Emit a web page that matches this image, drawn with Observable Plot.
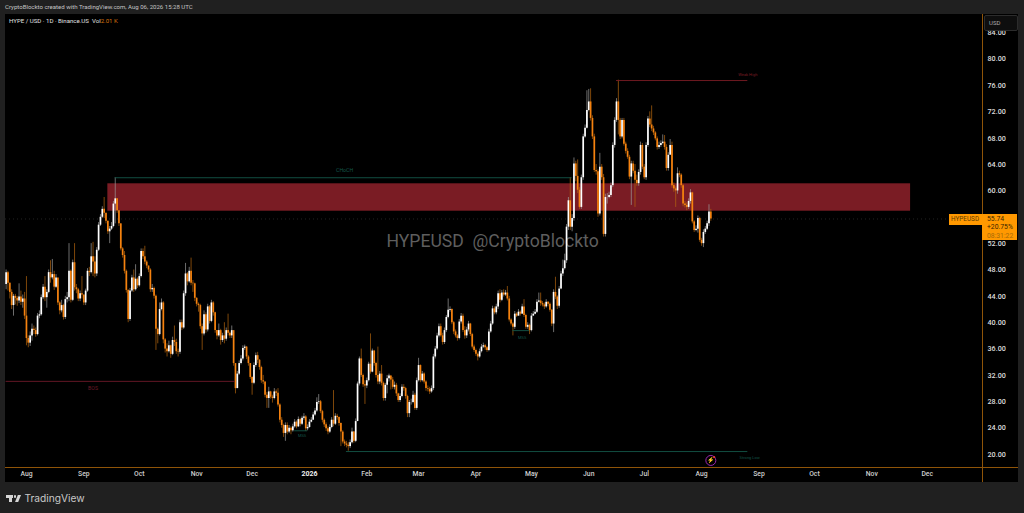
<!DOCTYPE html>
<html><head><meta charset="utf-8">
<script src="https://cdn.jsdelivr.net/npm/d3@7"></script>
<script src="https://cdn.jsdelivr.net/npm/@observablehq/plot@0.6"></script>
<style>
html,body{margin:0;padding:0;background:#202020;width:1024px;height:513px;overflow:hidden;font-family:Roboto,"Noto Sans",sans-serif}
#pane{position:absolute;left:5px;top:14px;width:1013px;height:468px;background:#000}
#plot{position:absolute;left:0;top:0}
#plot svg{background:transparent!important;display:block}
.abs{position:absolute;white-space:nowrap}
</style></head><body>
<div id="pane"></div>
<div id="plot"></div>
<div class="abs" style="left:982px;top:14px;width:1px;height:468px;background:#8f5408"></div>
<div class="abs" style="left:5px;top:467px;width:1013px;height:1px;background:#8f5408"></div>
<div class="abs" style="left:5px;top:3px;font-size:6.05px;line-height:8px;color:#c4c4c4">CryptoBlockto created with TradingView.com, Aug 06, 2026 15:28 UTC</div>
<div class="abs" style="left:9px;top:17px;font-size:6.1px;line-height:8px;color:#e0e0e0">HYPE / USD · 1D · Binance.US &nbsp;Vol<span style="color:#d9730d">2.01 K</span></div>
<div class="abs" style="left:984px;top:15px;width:32px;height:14px;background:#0e0e0e;border:1px solid #2c2c2c;border-radius:2px;color:#aaa;font-size:6px;line-height:13px;text-indent:4px">USD</div>
<div class="abs" style="left:949px;top:214px;width:33px;height:11px;background:#ff9800;color:#5a3a00;font-size:6.4px;line-height:11px;text-indent:2px">HYPEUSD</div>
<div class="abs" style="left:982px;top:214px;width:35px;height:26px;background:#ff9800;color:#3a2600;font-size:6.8px;line-height:8.4px;padding-left:5px;box-sizing:border-box;padding-top:1px">55.74<br>+20.75%<br><span style="color:#a86a08">08:31:22</span></div>
<div class="abs" style="left:6px;top:495px;width:7px;height:2.5px;background:#d6d6d6"></div>
<div class="abs" style="left:9px;top:495px;width:3px;height:7px;background:#d6d6d6"></div>
<div class="abs" style="left:13.5px;top:495px;width:2.5px;height:2.5px;border-radius:50%;background:#d6d6d6"></div>
<div class="abs" style="left:14px;top:495px;width:7px;height:7px;background:#d6d6d6;clip-path:polygon(55% 0,100% 0,60% 100%,15% 100%)"></div>
<div class="abs" style="left:24.5px;top:491px;font-family:Inter,Roboto,sans-serif;font-size:10.2px;line-height:14px;color:#c8c8c8">TradingView</div>
<script>
const firstDay = "2025-07-21";
const close = [
47.6,46.0,44.6,42.6,44.0,43.7,43.3,43.9,43.1,43.6,
41.0,37.6,36.9,38.0,39.0,38.8,38.2,41.0,41.2,43.8,
45.4,43.8,44.6,47.6,46.8,47.3,45.4,46.8,43.0,41.8,
42.6,40.8,43.5,43.8,47.8,43.4,49.1,45.3,45.0,43.6,
44.4,44.2,43.0,44.8,47.8,47.6,50.0,49.2,47.4,51.0,
54.8,56.0,57.2,56.6,55.4,53.8,54.2,54.6,58.0,58.8,
57.0,55.0,51.2,50.2,47.8,44.9,40.5,44.8,46.8,45.0,
46.6,45.6,47.0,50.8,50.0,49.2,48.6,48.0,45.0,45.2,
44.0,39.0,38.2,42.0,43.0,37.4,36.0,35.6,36.5,35.2,
37.3,37.0,35.6,35.5,40.0,39.2,44.4,47.4,46.2,47.8,
46.0,45.9,43.7,42.8,42.6,39.4,38.3,41.2,38.9,42.4,
40.2,43.0,41.5,38.8,38.0,38.8,37.3,38.0,37.5,38.8,
38.4,38.0,38.8,33.8,30.0,32.2,33.8,34.5,36.1,36.3,
34.8,33.8,31.7,30.8,33.5,35.0,34.3,33.2,31.2,31.0,
29.0,28.5,29.5,28.7,28.5,29.5,29.3,27.5,25.2,24.4,
23.2,24.4,23.4,24.0,23.6,24.2,24.9,24.2,25.3,24.6,
25.5,25.7,23.9,24.1,24.9,25.2,26.0,26.6,27.9,28.0,
26.5,25.2,24.5,23.9,23.4,24.1,25.2,24.6,25.8,25.6,
24.7,23.4,21.9,21.6,21.4,21.2,21.8,23.4,22.0,25.0,
30.7,34.5,32.0,30.6,30.4,31.2,33.7,32.5,35.7,33.8,
32.0,31.0,32.2,30.8,28.5,30.5,31.5,31.9,31.3,30.2,
30.5,29.2,28.2,28.8,30.2,30.0,28.8,26.2,27.9,27.9,
29.0,27.0,31.2,33.5,31.2,32.2,31.0,30.0,29.9,29.5,
30.0,34.8,36.0,38.0,39.4,38.0,37.0,38.8,40.8,41.9,
42.0,40.0,38.6,38.0,37.6,40.1,41.0,38.8,38.0,38.9,
39.8,38.2,36.3,35.8,35.2,34.8,35.6,36.3,36.5,36.2,
35.8,38.6,39.8,42.1,41.5,42.4,44.4,43.4,44.5,44.2,
44.5,43.6,40.4,39.8,39.3,41.3,41.0,41.6,41.3,42.4,
41.1,39.3,39.6,38.8,41.0,41.3,41.6,43.1,43.3,42.9,
42.7,42.4,43.1,42.8,41.9,39.8,44.6,43.9,42.5,45.1,
47.4,48.2,49.4,54.5,58.5,54.5,55.8,64.1,62.2,60.1,
57.5,62.0,68.2,69.5,72.2,73.5,71.0,68.2,63.1,62.9,
56.5,63.6,62.0,53.4,59.0,59.0,59.3,60.8,66.9,70.7,
73.5,70.7,68.2,70.7,67.1,66.0,65.1,62.1,64.1,63.0,
61.6,61.1,62.8,66.9,63.6,62.0,66.9,70.9,70.0,69.4,
68.8,67.9,66.6,66.9,67.2,67.4,66.6,63.4,65.4,66.9,
60.8,60.3,60.0,62.6,62.4,60.8,58.0,57.8,57.5,58.4,
59.7,55.3,54.0,54.2,55.8,52.5,52.0,53.7,54.2,55.0,56.8,55.74];
const high = [
48,47.8,46,45,44.3,44.3,44,45.9,44.8,44.2,
44.6,47,38,38.6,39.8,39.5,39.2,41.4,41.8,44.2,
45.8,47,45,48,49.4,49.6,47.8,47.3,45.6,43.2,
43.4,42.8,44,44.6,52,48,49.5,52,45.8,45.2,
44.8,47,44.2,45.1,48.2,48.4,52,52.2,50,51.4,
55.2,56.4,57.6,59,56.6,55.4,54.6,55.2,58.4,62,
58.8,57,55,51.4,50.8,48,45,45.2,47.2,48,
48.8,46.8,47.4,51.2,51.2,51.6,49.4,48.6,48.2,45.8,
45.4,44.2,39.2,43,43.6,43.2,37.6,36.8,37.2,36.6,
37.8,39.5,37.5,36,40.4,40.4,44.8,49,47.6,48.4,
49.8,46.4,46,43.8,43,42.8,39.8,41.8,41.5,42.8,
42.6,43.4,43.2,41.6,38.8,39.8,39,38.4,40,39.2,
41.3,38.6,39.5,38.6,33.8,32.6,34.2,35,36.5,36.6,
36.4,35,33.8,31.8,33.9,35.4,35.5,34.4,33.4,32,
31,29.4,30.2,29.6,29,30,29.8,30,27.7,25.6,
24.6,24.8,24.8,24.4,24.2,24.6,25.3,25.1,25.7,25.5,
25.8,26.2,25.9,24.5,25.3,25.6,26.4,27,28.6,29.1,
28.2,26.7,25.4,24.8,24.2,24.5,25.6,29.7,26.2,26.1,
25.7,24.8,23.6,22.2,22,21.8,22.2,24,23.5,25.4,
31,34.8,36,32.2,31.2,31.6,34,38.3,36,35.8,
34,36.3,32.6,33.5,31,30.8,32,32.2,32,31.7,
31,30.8,29.3,29.2,30.6,30.6,30.2,29,28.2,28.4,
29.6,29.3,31.6,34.6,33.6,32.6,32.4,31.2,30.4,30.2,
30.4,35.2,36.4,38.4,39.8,39.8,38.4,39.2,41.1,43.6,
42.4,42.1,40.2,38.9,38.2,40.5,41.4,41.3,39.4,39.3,
40.2,39.9,38.4,36.6,36,35.4,36,36.7,36.9,36.7,
36.4,39,40.2,42.5,42.4,42.8,44.8,45,44.9,45,
44.9,45.5,44,40.6,40,41.7,41.5,42,41.8,42.8,
43.5,41.3,40,39.8,41.4,41.7,42,43.5,44.5,44.5,
43.2,43,43.5,43.2,43,42,45,46.9,44.1,45.5,
47.8,49.5,50.4,54.9,59,62,56.4,65,64.5,64.7,
60.5,62.4,68.6,70,75.2,75.4,75.5,71.4,68.6,64,
63.2,65.7,64,62.5,59.5,59.6,59.8,61.2,67.3,71.1,
74,76.8,71,71,71,67.4,66.4,65.4,64.5,64.5,
64,62.4,63.2,67.4,67.2,64,67.3,71.3,72,72.9,
69.8,69,68.2,67.4,67.6,68.5,68.4,67,65.8,67.8,
67.4,61.2,60.6,63.5,63,62.6,61,58.4,58.2,58.8,
60.2,59.8,55.5,54.7,56.2,56,52.8,54.1,54.6,55.4,57.9,57.2];
const low = [
45,44.8,43.6,42,41,42.7,42.5,42.9,42.6,42.2,
40.5,36.5,36.2,36.4,37.2,38.2,37.8,38,40.6,41,
43.5,43.2,42.2,44.4,46,46.5,44.9,45.2,42.6,41.2,
41.5,40.4,40.5,43,43.2,43,43.2,44.8,44.4,43.2,
43.2,43.6,42.6,42.6,44.6,47,47.4,47,46.8,47,
50.8,54.6,55.8,55.8,55,53.4,52,54,54.4,55,
56.6,54.6,50.9,49.8,47.4,44.5,40,40.2,44.6,44.6,
44.8,45.2,45.4,46.8,49.6,48.8,48.2,47.6,44.6,44.6,
43.6,35.8,36.8,38,41.8,36.8,35.4,34.8,35.4,34.6,
35,36.4,35.2,34.8,35.2,38.8,39,44,45.6,46,
45.6,44.6,43.2,42.4,41.6,39,35.8,38,38.4,38.6,
39.8,40,41,38.4,37.4,37.8,36.6,37,36.8,37.2,
38,37.6,37.6,33.4,29.2,30,32,33.6,34.2,35.8,
34.4,33.4,31.4,29,30.6,33.2,33.8,32.8,30.8,30.6,
28.6,27,27,28.4,27.8,28.3,28.8,27.2,24.8,24,
22.6,22,23,23.2,23,23.4,24,23.9,24.1,24.2,
24.4,25.2,23.5,23.6,24,24.8,25.7,25.8,26.4,27.6,
26.2,24.8,24.1,23.5,23,23.2,23.9,24.2,24.4,25.2,
24.3,21.2,21.6,21.2,21,20.5,20.9,21.6,21.7,21.8,
25,30.4,31.7,30.2,27.6,30,31,32.2,32.4,33.4,
31.6,30.6,30.6,30.4,28.1,28.1,29.2,31,29.8,29.9,
29.8,28.8,27.9,27.9,28.6,29.6,28.4,25.6,25.6,27.5,
27.7,26.7,26.7,31,30.9,31,30.7,29.6,29.5,29.1,
29.3,29.7,34.5,35.8,37.7,37.8,36.6,36.7,38.5,40.6,
41.6,39.7,38.2,37.7,37.2,37.4,39.8,38.5,37.5,37.6,
38.6,37.9,36,35.5,34.9,34.2,34.6,35.4,36.1,35.8,
35.5,35.6,38.4,39.6,41.2,41.2,42,43,43.2,43.9,
44,43.3,40.1,39.5,38,39,40.8,41,41,41.3,
40.8,39,39,38.2,38.6,41,41.2,41.4,43,42.5,
42.4,42,42.2,42.4,41.6,39.4,38.5,43.5,42,42.2,
45,47,48,49,54,54,53.8,55.4,61.4,59.6,
57.2,57.2,61.6,68,69.4,72,70.6,67.8,62.8,62.4,
56,56.2,61.6,53,53,58,58.8,59,60.5,66.5,
70.4,68.5,67.8,67.9,66.8,65.6,64.8,61.7,57.8,62.6,
57.5,60.7,60.7,62.4,63.2,61.7,61.6,66.6,69.6,69,
68.4,67.6,66.2,66.3,66.6,67,66.2,63,63,66.5,
60.4,59.8,57.5,59.5,62,60.4,57.6,57.4,57,57.2,
58,55,53.7,53.8,53.6,52.2,51.6,51.4,53.4,54,54.6,55.4];

const priceTicks = [20,24,28,32,36,40,44,48,52,60,64,68,72,76,80,84];
const monthTicks = ["2025-08-01","2025-09-01","2025-10-01","2025-11-01","2025-12-01","2026-02-01","2026-03-01","2026-04-01","2026-05-01","2026-06-01","2026-07-01","2026-08-01","2026-09-01","2026-10-01","2026-11-01","2026-12-01"];
const yearTicks = ["2026-01-01"];
const levelLabels = ["CHoCH","BOS","Weak High","Strong Low","MSS","MSS"];
const levelFrom = ["2025-09-18","2025-07-21","2026-06-16","2026-01-21","2025-12-24","2026-04-21"];
const levelTo   = ["2026-05-23","2025-11-22","2026-08-26","2026-08-26","2025-12-31","2026-04-30"];
const levelPrice= [62,31.1,76.75,20.45,23.6,38.8];
const labelDate = ["2026-01-20","2025-09-06","2026-08-26","2026-08-27","2025-12-28","2026-04-26"];
const labelPrice= [63.1,30,77.7,19.5,22.9,37.75];
const levelColor= ["#14574a","#6d1a28","#7a1c24","#14574a","#14574a","#14574a"];
const zone = {from:"2025-09-14", to:"2026-11-22", low:56.92, high:61.08};
const lastPrice = 55.74;

const dt = s => new Date(s + "T00:00:00Z");
const candles = close.map((c,i) => ({
  date: new Date(dt(firstDay).getTime() + i*864e5),
  open: i ? close[i-1] : 45.8, close: c, high: high[i], low: low[i]
}));
const levels = levelLabels.map((label,i) => ({label, from:dt(levelFrom[i]), to:dt(levelTo[i]), price:levelPrice[i], ld:dt(labelDate[i]), lp:labelPrice[i], color:levelColor[i]}));
const up = d => d.close >= d.open;
const lastDate = candles[candles.length-1].date;

const chart = Plot.plot({
  width:1024, height:513,
  marginLeft:5, marginRight:42, marginTop:14, marginBottom:46,
  style:{background:"transparent", fontFamily:"Roboto,sans-serif"},
  x:{type:"utc", domain:[new Date("2025-07-20T16:00Z"), new Date("2026-12-30T21:00Z")]},
  y:{domain:[18.03,86.77]},
  marks:[
    Plot.ruleY([lastPrice],{stroke:"#3c3c3c",strokeWidth:.6,strokeDasharray:"1 3"}),
    Plot.text(["HYPEUSD  @CryptoBlockto"],{x:[dt("2026-04-10")],y:[52.3],fill:"#5e5e5e",fontSize:17.6,fontFamily:"Roboto,sans-serif"}),
    Plot.rect([zone],{x1:d=>dt(d.from),x2:d=>dt(d.to),y1:"low",y2:"high",fill:"#7a1c24"}),
    Plot.ruleX(candles,{x:"date",y1:"low",y2:"high",stroke:d=>up(d)?"#9c9c9c":"#b5650f",strokeWidth:.7}),
    Plot.ruleX(candles,{x:"date",y1:"open",y2:"close",stroke:d=>up(d)?"#ffffff":"#f5820f",strokeWidth:1.7}),
    Plot.ruleY(levels,{x1:"from",x2:"to",y:"price",stroke:"color",strokeWidth:.9}),
    Plot.text(levels,{x:"ld",y:"lp",text:"label",fill:"color",fontSize:d=>d.label==="CHoCH"||d.label==="BOS"?5.2:4,fontFamily:"Roboto,sans-serif"}),
    Plot.dot([lastPrice],{x:()=>lastDate,y:[19.1],r:5,stroke:"#9c27b0",strokeWidth:1}),
    Plot.text(["⚡"],{x:[lastDate],y:[19.1],fill:"#a040c8",fontSize:6}),
    Plot.dot([lastPrice],{x:()=>new Date(lastDate.getTime()+1.8*864e5),y:[19.6],r:1.1,fill:"#e53935"}),
    Plot.axisY(priceTicks,{anchor:"right",tickSize:0,tickPadding:5,tickFormat:d=>d.toFixed(2),fontSize:7.2,fontWeight:500,color:"#dddddd",label:null}),
    Plot.axisX(monthTicks.map(dt),{tickSize:0,tickPadding:3.5,tickFormat:d3.utcFormat("%b"),fontSize:6.8,fontWeight:500,color:"#cfcfcf",label:null}),
    Plot.axisX(yearTicks.map(dt),{tickSize:0,tickPadding:3.5,tickFormat:d3.utcFormat("%Y"),fontSize:7,fontWeight:700,color:"#eeeeee",label:null})
  ]
});
document.getElementById("plot").appendChild(chart);
</script>
</body></html>
